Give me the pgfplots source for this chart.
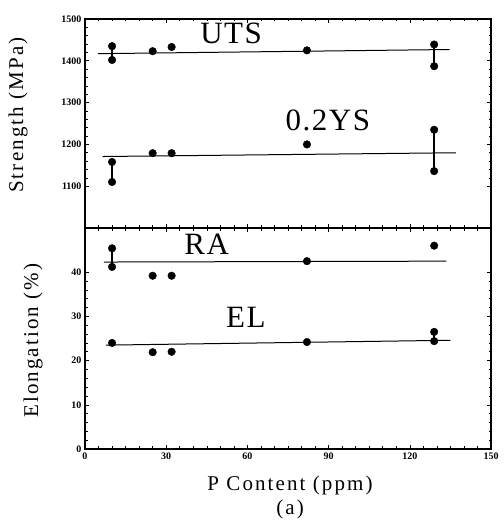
\documentclass[border=0pt]{standalone}
\usepackage{fontspec}
\setmainfont{Liberation Serif}
\usepackage{pgfplots}
\pgfplotsset{compat=1.18}

\pgfplotsset{
  panel/.style={
    scale only axis, width=406pt,
    xmin=0, xmax=150, xtick={0,30,60,90,120,150},
    minor x tick num=5,
    minor y tick num=4,
    tick align=inside,
    axis line style={line width=1.3pt},
    major tick length=4pt, minor tick length=2.5pt,
    every tick/.style={black, line width=0.6pt},
    tick label style={font=\fontsize{10}{11}\selectfont\bfseries},
    /pgf/number format/assume math mode=true,
    /pgf/number format/set thousands separator={},
    clip=false,
  },
  dots/.style={only marks, mark=*, mark size=3.8pt, black},
  fit/.style={black, line width=1pt, no marks},
  bar/.style={black, line width=1.6pt, no marks},
}
\newcommand{\labfont}{\fontsize{31}{33}\selectfont\addfontfeature{LetterSpace=5}}
\newcommand{\axfont}{\fontsize{21}{24}\selectfont\addfontfeature{LetterSpace=10}}

\begin{document}
\begin{tikzpicture}
\useasboundingbox (-85pt,-72pt) rectangle (418pt,449pt);

% lower panel: elongation
\begin{axis}[panel, at={(0pt,0pt)}, anchor=south west, height=221pt,
    ymin=0, ymax=50, ytick={0,10,20,30,40},
    xlabel={P Content (ppm)\\(a)},
    every axis x label/.style={at={(axis description cs:0.505,0)}, anchor=north, yshift=-23pt,
      font=\axfont, align=center},
    ylabel={Elongation (\%)},
    every axis y label/.style={at={(axis description cs:-0.128,0.49)}, rotate=90, anchor=center,
      font=\axfont},
  ]
  % RA
  \addplot[fit] coordinates {(7,42.3) (133.5,42.5)};
  \addplot[bar] coordinates {(10,41.2) (10,45.4)};
  \addplot[dots] coordinates {(10,45.4) (10,41.2) (25,39.2) (32,39.2) (82,42.5) (129,46)};
  % EL
  \addplot[fit] coordinates {(7.7,23.5) (135,24.6)};
  \addplot[bar] coordinates {(129,24.4) (129,26.5)};
  \addplot[dots] coordinates {(10,24) (25,21.9) (32,22) (82,24.2) (129,26.5) (129,24.4)};
  \node[font=\labfont] at (axis cs:45,46.3) {RA};
  \node[font=\labfont] at (axis cs:59.4,29.8) {EL};
\end{axis}

% upper panel: strength
\begin{axis}[panel, at={(0pt,221pt)}, anchor=south west, height=209pt,
    ymin=1000, ymax=1500, ytick={1100,1200,1300,1400,1500},
    xticklabels={},
    ylabel={Strength (MPa)},
    every axis y label/.style={at={(axis description cs:-0.165,0.54)}, rotate=90, anchor=center,
      font=\axfont},
  ]
  % UTS
  \addplot[fit] coordinates {(4.8,1417) (134.7,1427)};
  \addplot[bar] coordinates {(10,1402) (10,1435)};
  \addplot[bar] coordinates {(129,1387) (129,1439)};
  \addplot[dots] coordinates {(10,1435) (10,1402) (25,1423) (32,1433) (82,1425) (129,1439) (129,1387)};
  % 0.2YS
  \addplot[fit] coordinates {(6.5,1171) (137,1180)};
  \addplot[bar] coordinates {(10,1110) (10,1158)};
  \addplot[bar] coordinates {(129,1136) (129,1235)};
  \addplot[dots] coordinates {(10,1158) (10,1110) (25,1179) (32,1179) (82,1200) (129,1235) (129,1136)};
  \node[font=\labfont] at (axis cs:54,1466) {UTS};
  \node[font=\labfont] at (axis cs:89.7,1257) {0.2YS};
\end{axis}
\end{tikzpicture}
\end{document}
